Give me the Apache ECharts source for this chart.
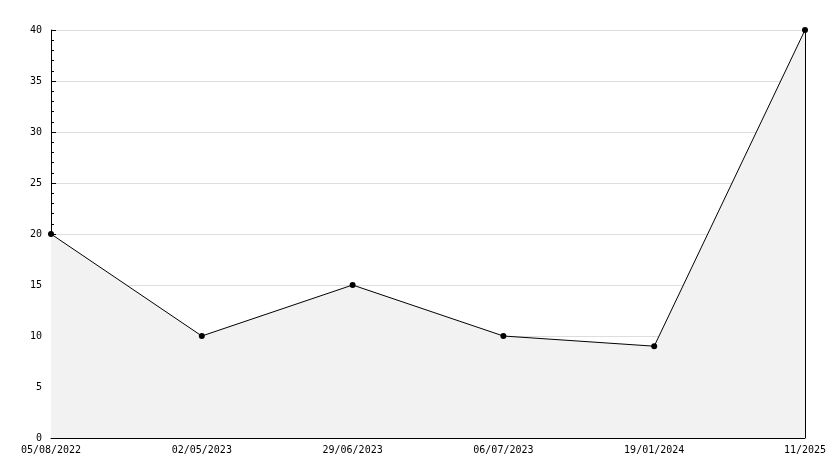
<!DOCTYPE html>
<html><head><meta charset="utf-8">
<script src="https://cdn.jsdelivr.net/npm/echarts@6/dist/echarts.min.js"></script>
<style>html,body{margin:0;padding:0;background:#fff}#c{width:834px;height:468px}</style>
</head><body><div id="c"></div>
<script>
const categories = ['05/08/2022','02/05/2023','29/06/2023','06/07/2023','19/01/2024','11/2025'];
const values = [20, 10, 15, 10, 9, 40];
const yTicks = [0, 5, 10, 15, 20, 25, 30, 35, 40];

const font = 'DejaVu Sans Mono';
const chart = echarts.init(document.getElementById('c'), null, {renderer: 'canvas'});
chart.setOption({
  animation: false,
  backgroundColor: '#ffffff',
  grid: {left: 51, right: 29, top: 30, bottom: 30, containLabel: false},
  xAxis: {
    type: 'category', data: categories, boundaryGap: false,
    axisLine: {lineStyle: {color: '#000', width: 1}},
    axisTick: {inside: true, length: 5, lineStyle: {color: '#000'}},
    axisLabel: {color: '#000', fontFamily: font, fontSize: 10, margin: 7, interval: 0},
    splitLine: {show: false}
  },
  yAxis: {
    type: 'value', min: yTicks[0], max: yTicks[yTicks.length - 1], interval: 5,
    axisLine: {show: true, lineStyle: {color: '#000', width: 1}},
    axisTick: {show: true, inside: true, length: 5, lineStyle: {color: '#000'}},
    minorTick: {show: true, splitNumber: 5, length: 3, lineStyle: {color: '#000'}},
    axisLabel: {color: '#000', fontFamily: font, fontSize: 10, margin: 9},
    splitLine: {show: true, lineStyle: {color: '#dddddd', width: 1}}
  },
  series: [{
    type: 'line', data: values,
    lineStyle: {color: '#000', width: 1},
    itemStyle: {color: '#000'},
    symbol: 'circle', symbolSize: 6, showSymbol: true,
    areaStyle: {color: '#f2f2f2', opacity: 1},
    markLine: {
      silent: true, symbol: ['none', 'none'], label: {show: false},
      lineStyle: {color: '#000', width: 1, type: 'solid'},
      data: [[{coord: [categories[categories.length - 1], 0]}, {coord: [categories[categories.length - 1], values[values.length - 1]]}]]
    }
  }]
});
</script></body></html>
